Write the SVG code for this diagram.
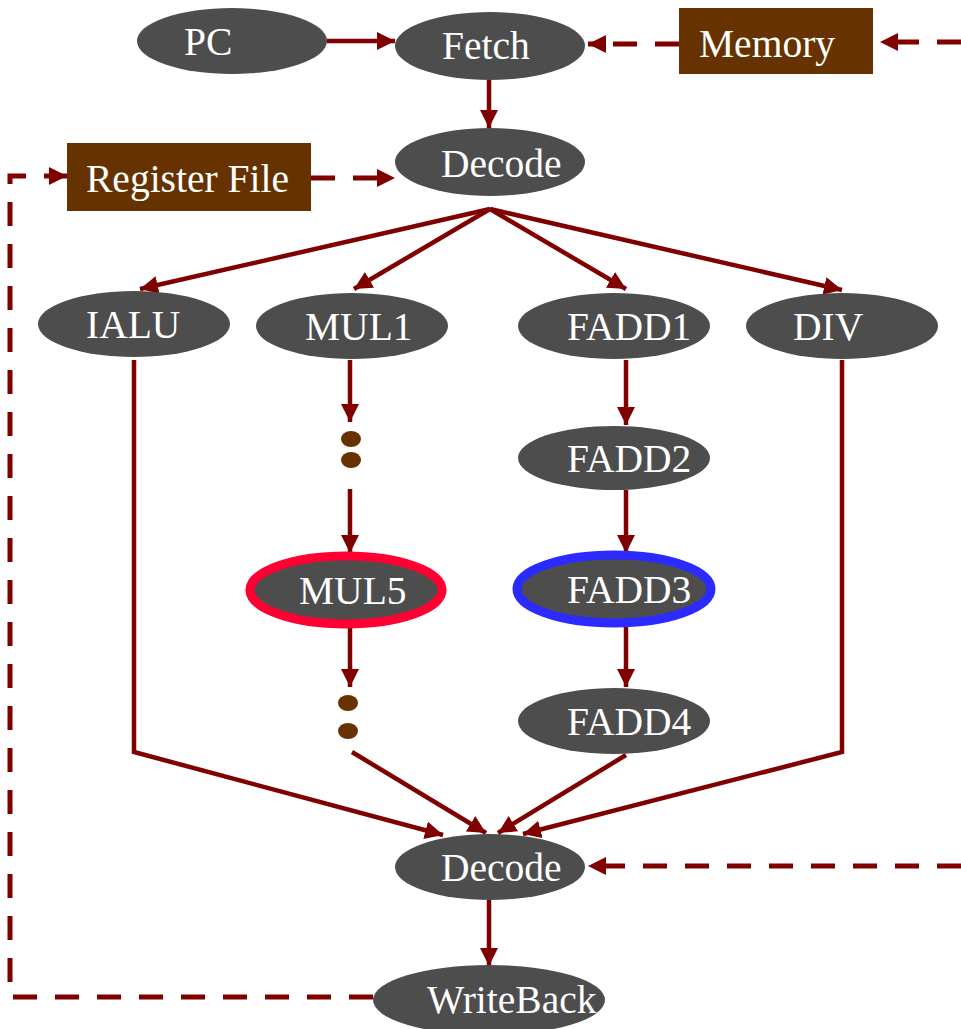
<svg xmlns="http://www.w3.org/2000/svg" width="961" height="1029" viewBox="0 0 961 1029">
  <defs>
    <marker id="arrow" markerUnits="userSpaceOnUse" markerWidth="20" markerHeight="18" refX="18" refY="9" orient="auto">
      <path d="M0,0 L18,9 L0,18 Z" fill="#800000"/>
    </marker>
    <style>
      .node { fill: #4d4d4d; }
      .box { fill: #663300; }
      .dot { fill: #663300; }
      .label { fill: #ffffff; font-family: "Liberation Serif", "Times New Roman", serif; font-size: 39.5px; }
      .solid { fill: none; stroke: #800000; stroke-width: 4.5; }
      .dashed { fill: none; stroke: #800000; stroke-width: 5; stroke-dasharray: 24 18; }
    </style>
  </defs>
  <rect width="961" height="1029" fill="#ffffff"/>

  <!-- connectors -->
  <g id="connectors">
    <line class="solid" x1="327" y1="41" x2="395" y2="41" marker-end="url(#arrow)"/>
    <line class="dashed" x1="679" y1="44" x2="588" y2="44" marker-end="url(#arrow)"/>
    <line class="dashed" x1="961" y1="42" x2="880" y2="42" marker-end="url(#arrow)"/>
    <line class="solid" x1="489" y1="80" x2="489" y2="128" marker-end="url(#arrow)"/>
    <line class="dashed" x1="311" y1="178" x2="395" y2="178" marker-end="url(#arrow)"/>
    <path class="dashed" d="M373,997 H10 V176 H67" marker-end="url(#arrow)"/>

    <!-- fan-out to execution units -->
    <line class="solid" x1="490" y1="209" x2="140" y2="289" marker-end="url(#arrow)"/>
    <line class="solid" x1="490" y1="209" x2="354" y2="289" marker-end="url(#arrow)"/>
    <line class="solid" x1="490" y1="209" x2="626" y2="289" marker-end="url(#arrow)"/>
    <line class="solid" x1="490" y1="209" x2="842" y2="290" marker-end="url(#arrow)"/>

    <!-- multiplier pipeline -->
    <line class="solid" x1="350" y1="360" x2="350" y2="422" marker-end="url(#arrow)"/>
    <line class="solid" x1="350" y1="489" x2="350" y2="553" marker-end="url(#arrow)"/>
    <line class="solid" x1="350" y1="626" x2="350" y2="687" marker-end="url(#arrow)"/>

    <!-- adder pipeline -->
    <line class="solid" x1="626" y1="360" x2="626" y2="425" marker-end="url(#arrow)"/>
    <line class="solid" x1="626" y1="490" x2="626" y2="553" marker-end="url(#arrow)"/>
    <line class="solid" x1="626" y1="625" x2="626" y2="687" marker-end="url(#arrow)"/>

    <!-- merge into second decode -->
    <path class="solid" d="M134,360 V752 L443,835" marker-end="url(#arrow)"/>
    <line class="solid" x1="352" y1="752" x2="486" y2="833" marker-end="url(#arrow)"/>
    <line class="solid" x1="626" y1="755" x2="498" y2="833" marker-end="url(#arrow)"/>
    <path class="solid" d="M842,360 V752 L523,834" marker-end="url(#arrow)"/>
    <line class="dashed" x1="961" y1="866" x2="588" y2="866" marker-end="url(#arrow)"/>
    <line class="solid" x1="489" y1="900" x2="489" y2="966" marker-end="url(#arrow)"/>
  </g>

  <g id="pc">
    <ellipse class="node" cx="232" cy="41" rx="95" ry="33"/>
    <text class="label" x="184" y="55">PC</text>
  </g>
  <g id="fetch">
    <ellipse class="node" cx="490" cy="46" rx="95" ry="34"/>
    <text class="label" x="442" y="59">Fetch</text>
  </g>
  <g id="memory">
    <rect class="box" x="679" y="8" width="194" height="66"/>
    <text class="label" x="699" y="57">Memory</text>
  </g>
  <g id="decode">
    <ellipse class="node" cx="490" cy="162" rx="95" ry="34"/>
    <text class="label" x="441" y="177">Decode</text>
  </g>
  <g id="register-file">
    <rect class="box" x="67" y="143" width="244" height="68"/>
    <text class="label" x="86" y="192">Register File</text>
  </g>
  <g id="ialu">
    <ellipse class="node" cx="134" cy="324" rx="96" ry="33"/>
    <text class="label" x="86" y="338">IALU</text>
  </g>
  <g id="mul1">
    <ellipse class="node" cx="352" cy="326" rx="96" ry="33"/>
    <text class="label" x="305" y="340">MUL1</text>
  </g>
  <g id="fadd1">
    <ellipse class="node" cx="614" cy="326" rx="96" ry="33"/>
    <text class="label" x="567" y="340">FADD1</text>
  </g>
  <g id="div">
    <ellipse class="node" cx="842" cy="326" rx="96" ry="33"/>
    <text class="label" x="793" y="340">DIV</text>
  </g>
  <g id="mul-dots-upper">
    <ellipse class="dot" cx="351" cy="439" rx="10" ry="8"/>
    <ellipse class="dot" cx="351" cy="460" rx="10" ry="8"/>
  </g>
  <g id="fadd2">
    <ellipse class="node" cx="614" cy="458" rx="96" ry="32"/>
    <text class="label" x="567" y="472">FADD2</text>
  </g>
  <g id="mul5">
    <ellipse class="node" cx="346" cy="590" rx="96" ry="34" stroke="#ff0033" stroke-width="9"/>
    <text class="label" x="299" y="604">MUL5</text>
  </g>
  <g id="fadd3">
    <ellipse class="node" cx="614" cy="589" rx="97" ry="34" stroke="#2b2bff" stroke-width="9"/>
    <text class="label" x="567" y="603">FADD3</text>
  </g>
  <g id="mul-dots-lower">
    <ellipse class="dot" cx="348" cy="703" rx="10" ry="8"/>
    <ellipse class="dot" cx="348" cy="731" rx="10" ry="8"/>
  </g>
  <g id="fadd4">
    <ellipse class="node" cx="614" cy="721" rx="96" ry="33"/>
    <text class="label" x="567" y="735">FADD4</text>
  </g>
  <g id="decode2">
    <ellipse class="node" cx="490" cy="867" rx="95" ry="33"/>
    <text class="label" x="441" y="881">Decode</text>
  </g>
  <g id="writeback">
    <ellipse class="node" cx="489" cy="1000" rx="116" ry="35"/>
    <text class="label" x="427" y="1013">WriteBack</text>
  </g>
</svg>
